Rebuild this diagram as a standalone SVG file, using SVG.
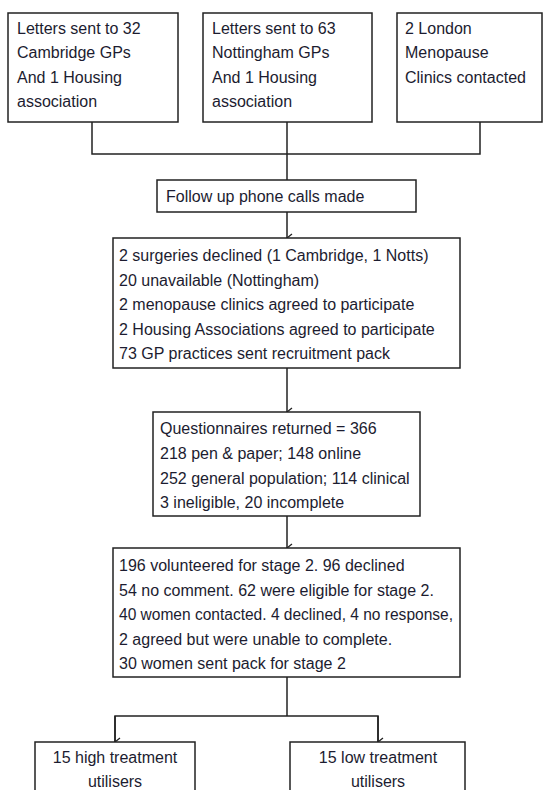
<svg xmlns="http://www.w3.org/2000/svg" width="555" height="790" viewBox="0 0 555 790">
  <style>
    .box { fill: #ffffff; stroke: #222222; stroke-width: 1.5; }
    .txt { font-family: "Liberation Sans", Arial, sans-serif; font-size: 16px; fill: #1c1c30; }
    .mid { text-anchor: middle; }
    .link { fill: none; stroke: #222222; stroke-width: 1.5; }
  </style>
  <defs>
    <marker id="arrow" markerWidth="10" markerHeight="10" refX="5" refY="8" orient="auto" markerUnits="userSpaceOnUse" viewBox="0 0 10 10">
      <path d="M1,3 L5,8 L9,3" fill="none" stroke="#222222" stroke-width="1.3"/>
    </marker>
  </defs>
  <rect width="555" height="790" fill="#ffffff"/>

  <!-- connectors -->
  <g id="connectors">
    <path class="link" d="M92,122 V154 H480 V122"/>
    <path class="link" d="M287,122 V180"/>
    <path class="link" d="M287,212 V238" marker-end="url(#arrow)"/>
    <path class="link" d="M287,368 V412" marker-end="url(#arrow)"/>
    <path class="link" d="M287,516 V548" marker-end="url(#arrow)"/>
    <path class="link" d="M287,677 V716"/>
    <path class="link" d="M115,742 V716 H378 V742"/>
    <path class="link" d="M115,716 V742" marker-end="url(#arrow)"/>
    <path class="link" d="M378,716 V742" marker-end="url(#arrow)"/>
  </g>

  <g id="cambridge">
    <rect class="box" x="8" y="13" width="170" height="109"/>
    <text class="txt" x="17" y="34">Letters sent to 32</text>
    <text class="txt" x="17" y="58">Cambridge GPs</text>
    <text class="txt" x="17" y="83">And 1 Housing</text>
    <text class="txt" x="17" y="107">association</text>
  </g>

  <g id="nottingham">
    <rect class="box" x="203" y="13" width="169" height="109"/>
    <text class="txt" x="212" y="34">Letters sent to 63</text>
    <text class="txt" x="212" y="58">Nottingham  GPs</text>
    <text class="txt" x="212" y="83">And 1 Housing</text>
    <text class="txt" x="212" y="107">association</text>
  </g>

  <g id="london">
    <rect class="box" x="397" y="13" width="145" height="109"/>
    <text class="txt" x="405" y="34">2 London</text>
    <text class="txt" x="405" y="58">Menopause</text>
    <text class="txt" x="405" y="83">Clinics contacted</text>
  </g>

  <g id="followup">
    <rect class="box" x="157" y="180" width="259" height="32"/>
    <text class="txt" x="166" y="202">Follow up phone calls made</text>
  </g>

  <g id="responses">
    <rect class="box" x="113" y="238" width="347" height="130"/>
    <text class="txt" x="119" y="261">2 surgeries declined (1 Cambridge, 1 Notts)</text>
    <text class="txt" x="119" y="286">20 unavailable (Nottingham)</text>
    <text class="txt" x="119" y="310">2 menopause clinics agreed to participate</text>
    <text class="txt" x="119" y="335">2 Housing Associations agreed to participate</text>
    <text class="txt" x="119" y="359">73 GP practices sent recruitment pack</text>
  </g>

  <g id="questionnaires">
    <rect class="box" x="153" y="412" width="267" height="104"/>
    <text class="txt" x="160" y="434">Questionnaires returned = 366</text>
    <text class="txt" x="160" y="459">218 pen &amp; paper; 148 online</text>
    <text class="txt" x="160" y="484">252 general population; 114 clinical</text>
    <text class="txt" x="160" y="508">3 ineligible, 20 incomplete</text>
  </g>

  <g id="stage2">
    <rect class="box" x="113" y="548" width="347" height="129"/>
    <text class="txt" x="119" y="571">196 volunteered for stage 2. 96 declined</text>
    <text class="txt" x="119" y="596">54 no comment. 62 were eligible for stage 2.</text>
    <text class="txt" x="119" y="620" textLength="334" lengthAdjust="spacingAndGlyphs">40 women contacted. 4 declined, 4 no response,</text>
    <text class="txt" x="119" y="645">2 agreed but  were unable to complete.</text>
    <text class="txt" x="119" y="669">30 women sent pack for stage 2</text>
  </g>

  <g id="high">
    <rect class="box" x="35" y="742" width="160" height="60"/>
    <text class="txt mid" x="115" y="763">15 high treatment</text>
    <text class="txt mid" x="115" y="787">utilisers</text>
  </g>

  <g id="low">
    <rect class="box" x="290" y="742" width="175" height="60"/>
    <text class="txt mid" x="378" y="763">15 low treatment</text>
    <text class="txt mid" x="378" y="787">utilisers</text>
  </g>
</svg>
